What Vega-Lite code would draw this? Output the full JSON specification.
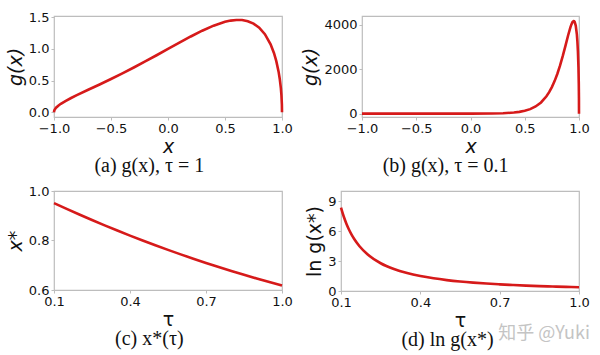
{
  "$schema": "https://vega.github.io/schema/vega-lite/v6.json",
  "padding": {"left": 5, "top": 10, "right": 0, "bottom": 0},
  "bounds": "flush",
  "spacing": 175,
  "title": {"text": "知乎 @Yuki", "orient": "bottom", "anchor": "end", "color": "#c4c4c4", "font": "Noto Sans CJK SC", "fontSize": 18, "fontWeight": "normal", "offset": -26, "dx": 0},
  "config": {
    "view": {"stroke": "#bdbdbd", "strokeWidth": 1.2},
    "axis": {"grid": false, "domain": false, "tickColor": "#bdbdbd", "tickSize": 3, "labelFont": "DejaVu Sans", "labelFontSize": 13, "labelColor": "#111111", "labelPadding": 2, "labelFlush": false, "labelOverlap": false, "titleFont": "DejaVu Sans", "titleFontSize": 19, "titleFontWeight": "normal", "titleFontStyle": "italic", "titleColor": "#111111"},
    "axisX": {"titleY": 35, "titleBaseline": "alphabetic"},
    "axisY": {"titlePadding": 3},
    "line": {"color": "#d61a1a", "strokeWidth": 2.6},
    "title": {"font": "Liberation Serif", "fontSize": 20, "fontWeight": "normal", "color": "#111111", "frame": "bounds"}
  },
  "vconcat": [
    {
      "bounds": "flush",
      "spacing": 80,
      "hconcat": [
        {
          "width": 228, "height": 101,
          "title": {"text": "(a) g(x), τ = 1", "orient": "bottom", "offset": 0},
          "data": {"values": [
            {"x": -1, "g": 0}, {"x": -0.999, "g": 0.01646}, {"x": -0.995, "g": 0.03692}, {"x": -0.99, "g": 0.05242},
            {"x": -0.98, "g": 0.07469}, {"x": -0.96, "g": 0.10721}, {"x": -0.94, "g": 0.13326}, {"x": -0.9, "g": 0.17722},
            {"x": -0.85, "g": 0.22515}, {"x": -0.8, "g": 0.2696}, {"x": -0.7, "g": 0.35463}, {"x": -0.6, "g": 0.43905},
            {"x": -0.5, "g": 0.52527}, {"x": -0.4, "g": 0.61436}, {"x": -0.3, "g": 0.7067}, {"x": -0.2, "g": 0.80219},
            {"x": -0.1, "g": 0.9003}, {"x": 0, "g": 1}, {"x": 0.1, "g": 1.09963}, {"x": 0.2, "g": 1.19673},
            {"x": 0.3, "g": 1.28768}, {"x": 0.4, "g": 1.36729}, {"x": 0.5, "g": 1.42784}, {"x": 0.55, "g": 1.44754},
            {"x": 0.6, "g": 1.4577}, {"x": 0.65, "g": 1.45568}, {"x": 0.7, "g": 1.4381}, {"x": 0.75, "g": 1.40027},
            {"x": 0.8, "g": 1.33532}, {"x": 0.85, "g": 1.23248}, {"x": 0.9, "g": 1.07212}, {"x": 0.93, "g": 0.93158},
            {"x": 0.95, "g": 0.80739}, {"x": 0.97, "g": 0.64128}, {"x": 0.98, "g": 0.53023}, {"x": 0.99, "g": 0.37965},
            {"x": 0.995, "g": 0.27012}, {"x": 0.999, "g": 0.12141}, {"x": 1, "g": 0}
          ]},
          "mark": {"type": "line"},
          "encoding": {
            "x": {"field": "x", "type": "quantitative", "scale": {"domain": [-1, 1], "nice": false, "zero": false}, "axis": {"values": [-1, -0.5, 0, 0.5, 1], "format": ".1f", "title": "x"}},
            "y": {"field": "g", "type": "quantitative", "scale": {"domain": [-0.075, 1.52], "nice": false, "zero": false}, "axis": {"values": [0, 0.5, 1, 1.5], "format": ".1f", "title": "g(x)"}}
          }
        },
        {
          "width": 217, "height": 101,
          "title": {"text": "(b) g(x), τ = 0.1", "orient": "bottom", "offset": 0},
          "data": {"values": [
            {"x": -1, "g": 0}, {"x": -0.5, "g": 0.0058}, {"x": -0.3, "g": 0.0475}, {"x": 0, "g": 1}, {"x": 0.2, "g": 7.24},
            {"x": 0.3, "g": 19.16}, {"x": 0.4, "g": 50.04}, {"x": 0.45, "g": 80.39}, {"x": 0.5, "g": 128.53},
            {"x": 0.55, "g": 204.36}, {"x": 0.6, "g": 322.74}, {"x": 0.65, "g": 505.46}, {"x": 0.7, "g": 783.15},
            {"x": 0.725, "g": 969.83}, {"x": 0.75, "g": 1195.9}, {"x": 0.775, "g": 1467.1}, {"x": 0.8, "g": 1788.6},
            {"x": 0.825, "g": 2163.1}, {"x": 0.85, "g": 2589.0}, {"x": 0.875, "g": 3055.1}, {"x": 0.9, "g": 3532.1},
            {"x": 0.92, "g": 3878.9}, {"x": 0.93, "g": 4020.4}, {"x": 0.94, "g": 4124.2}, {"x": 0.95, "g": 4171.6},
            {"x": 0.955, "g": 4165.8}, {"x": 0.96, "g": 4134.1}, {"x": 0.97, "g": 3966.8}, {"x": 0.98, "g": 3588.7},
            {"x": 0.985, "g": 3271.3}, {"x": 0.99, "g": 2811.6}, {"x": 0.995, "g": 2092.5}, {"x": 0.998, "g": 1364.8},
            {"x": 0.9995, "g": 693.0}, {"x": 1, "g": 0}
          ]},
          "mark": {"type": "line"},
          "encoding": {
            "x": {"field": "x", "type": "quantitative", "scale": {"domain": [-1, 1], "nice": false, "zero": false}, "axis": {"values": [-1, -0.5, 0, 0.5, 1], "format": ".1f", "title": "x"}},
            "y": {"field": "g", "type": "quantitative", "scale": {"domain": [-150, 4400], "nice": false, "zero": false}, "axis": {"values": [0, 2000, 4000], "format": "d", "title": "g(x)"}}
          }
        }
      ]
    },
    {
      "bounds": "flush",
      "spacing": 59,
      "hconcat": [
        {
          "width": 228, "height": 99,
          "title": {"text": "(c) x*(τ)", "orient": "bottom", "offset": 0},
          "data": {"values": [
            {"t": 0.1, "v": 0.951249}, {"t": 0.15, "v": 0.927809}, {"t": 0.2, "v": 0.904988}, {"t": 0.25, "v": 0.882782},
            {"t": 0.3, "v": 0.861187}, {"t": 0.35, "v": 0.840197}, {"t": 0.4, "v": 0.819804}, {"t": 0.45, "v": 0.8},
            {"t": 0.5, "v": 0.780776}, {"t": 0.55, "v": 0.762124}, {"t": 0.6, "v": 0.744031}, {"t": 0.65, "v": 0.726487},
            {"t": 0.7, "v": 0.709481}, {"t": 0.75, "v": 0.693}, {"t": 0.8, "v": 0.677033}, {"t": 0.85, "v": 0.661566},
            {"t": 0.9, "v": 0.646586}, {"t": 0.95, "v": 0.63208}, {"t": 1.0, "v": 0.618034}
          ]},
          "mark": {"type": "line"},
          "encoding": {
            "x": {"field": "t", "type": "quantitative", "scale": {"domain": [0.1, 1], "nice": false, "zero": false}, "axis": {"values": [0.1, 0.4, 0.7, 1.0], "format": ".1f", "title": "τ", "titleFontStyle": "normal"}},
            "y": {"field": "v", "type": "quantitative", "scale": {"domain": [0.6, 1.0], "nice": false, "zero": false}, "axis": {"values": [0.6, 0.8, 1.0], "format": ".1f", "title": "x*"}}
          }
        },
        {
          "width": 238, "height": 100,
          "title": {"text": "(d) ln g(x*)", "orient": "bottom", "offset": 0},
          "data": {"values": [
            {"t": 0.1, "v": 8.3362}, {"t": 0.11, "v": 7.4735}, {"t": 0.12, "v": 6.7582}, {"t": 0.13, "v": 6.156},
            {"t": 0.14, "v": 5.6423}, {"t": 0.15, "v": 5.1994}, {"t": 0.17, "v": 4.4751}, {"t": 0.2, "v": 3.6703},
            {"t": 0.25, "v": 2.7757}, {"t": 0.3, "v": 2.1939}, {"t": 0.35, "v": 1.7886}, {"t": 0.4, "v": 1.492},
            {"t": 0.45, "v": 1.2669}, {"t": 0.5, "v": 1.0913}, {"t": 0.55, "v": 0.9509}, {"t": 0.6, "v": 0.8368},
            {"t": 0.65, "v": 0.7425}, {"t": 0.7, "v": 0.6636}, {"t": 0.75, "v": 0.5968}, {"t": 0.8, "v": 0.5397},
            {"t": 0.85, "v": 0.4905}, {"t": 0.9, "v": 0.4477}, {"t": 0.95, "v": 0.4103}, {"t": 1.0, "v": 0.3774}
          ]},
          "mark": {"type": "line", "interpolate": "monotone"},
          "encoding": {
            "x": {"field": "t", "type": "quantitative", "scale": {"domain": [0.1, 1], "nice": false, "zero": false}, "axis": {"values": [0.1, 0.4, 0.7, 1.0], "format": ".1f", "title": "τ", "titleFontStyle": "normal"}},
            "y": {"field": "v", "type": "quantitative", "scale": {"domain": [0, 10], "nice": false, "zero": false}, "axis": {"values": [0, 3, 6, 9], "format": "d", "title": "ln g(x*)", "titleFontStyle": "normal"}}
          }
        }
      ]
    }
  ]
}
